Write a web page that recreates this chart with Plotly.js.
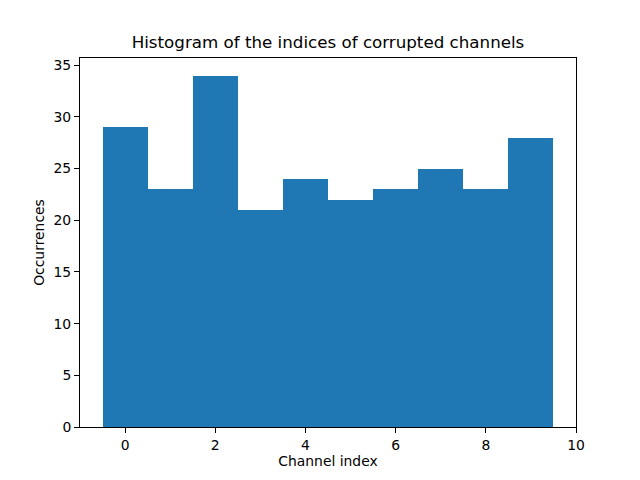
<!DOCTYPE html>
<html>
<head>
<meta charset="utf-8">
<script src="https://cdn.plot.ly/plotly-3.0.1.min.js"></script>
<style>html,body{margin:0;padding:0;background:#fff;}#chart{width:640px;height:480px;}</style>
</head>
<body>
<div id="chart"></div>
<script>
const channels = [0, 1, 2, 3, 4, 5, 6, 7, 8, 9];
const occurrences = [29, 23, 34, 21, 24, 22, 23, 25, 23, 28];
const xTicks = [0, 2, 4, 6, 8, 10];
const yTicks = [0, 5, 10, 15, 20, 25, 30, 35];

const font = {family: 'DejaVu Sans, sans-serif', size: 13.9, color: '#000'};

const trace = {
  type: 'bar',
  x: channels,
  y: occurrences,
  width: 1,
  marker: {color: '#1f77b4', line: {width: 0}},
  hoverinfo: 'x+y'
};

const axisCommon = {
  showline: true,
  linecolor: '#000',
  linewidth: 1,
  mirror: true,
  showgrid: false,
  zeroline: false,
  ticks: 'outside',
  ticklen: 5,
  tickwidth: 1,
  tickcolor: '#000',
  tickfont: font
};

const layout = {
  width: 640,
  height: 480,
  paper_bgcolor: '#fff',
  plot_bgcolor: '#fff',
  margin: {l: 80, r: 64, t: 58, b: 53, pad: 0},
  showlegend: false,
  bargap: 0,
  title: {
    text: 'Histogram of the indices of corrupted channels',
    font: {family: 'DejaVu Sans, sans-serif', size: 16.7, color: '#000'},
    x: 0.5, xref: 'paper', xanchor: 'center',
    y: 1, yref: 'paper', yanchor: 'bottom',
    pad: {b: 10}
  },
  xaxis: Object.assign({}, axisCommon, {
    range: [-1, 10],
    tickvals: xTicks,
    ticktext: xTicks.map(String),
    title: {text: 'Channel index', font: font, standoff: 4}
  }),
  yaxis: Object.assign({}, axisCommon, {
    range: [0, 35.7],
    tickvals: yTicks,
    ticktext: yTicks.map(String),
    title: {text: 'Occurrences', font: font, standoff: 5}
  })
};

Plotly.newPlot('chart', [trace], layout, {displayModeBar: false, staticPlot: true});
</script>
</body>
</html>
